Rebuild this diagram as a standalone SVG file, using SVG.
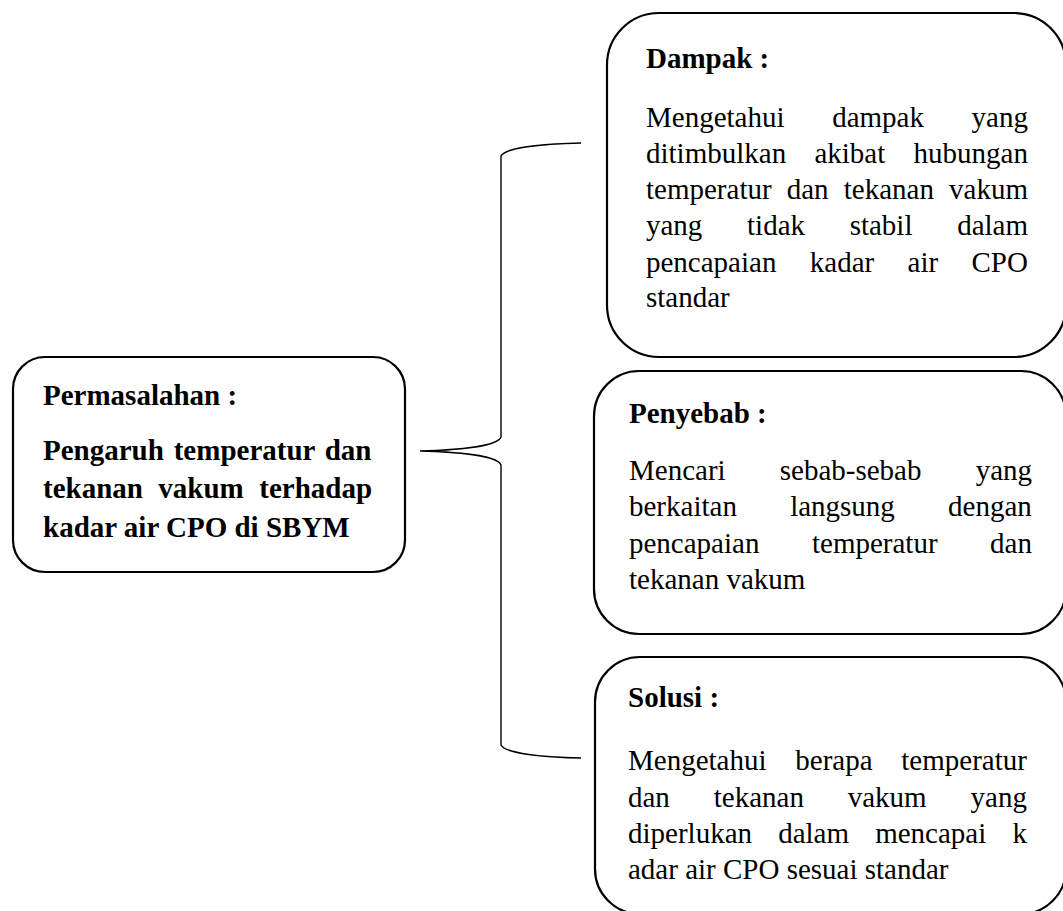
<svg xmlns="http://www.w3.org/2000/svg" width="1063" height="911" viewBox="0 0 1063 911">
<style>
.box{fill:#fff;stroke:#000;stroke-width:2.2}
.t{font-family:"Liberation Serif","Times New Roman",serif;font-size:29px;fill:#000}
.b{font-weight:bold}
.br{fill:none;stroke:#000;stroke-width:1.4}
</style>
<rect width="1063" height="911" fill="#fff"/>
<g id="connectors">
<path class="br" d="M581,143 C540,144 505,148 501,156 L501,437 C498,446 460,450 420,451 C460,452 498,456 501,465 L501,745 C505,753 540,757 581,758"/>
</g>
<g id="permasalahan">
<rect class="box" x="13" y="357" width="392" height="215" rx="32" ry="32"/>
<text class="t b" x="43" y="405">Permasalahan :</text>
<text class="t b" x="43" y="460" style="word-spacing:2.6px">Pengaruh temperatur dan</text>
<text class="t b" x="43" y="498" style="word-spacing:8.2px">tekanan vakum terhadap</text>
<text class="t b" x="43" y="537">kadar air CPO di SBYM</text>
</g>
<g id="dampak">
<rect class="box" x="607" y="13" width="459" height="344" rx="52" ry="52"/>
<text class="t b" x="646" y="68">Dampak :</text>
<text class="t" x="646" y="127" style="word-spacing:40.4px">Mengetahui dampak yang</text>
<text class="t" x="646" y="163" style="word-spacing:21px">ditimbulkan akibat hubungan</text>
<text class="t" x="646" y="199" style="word-spacing:7.9px">temperatur dan tekanan vakum</text>
<text class="t" x="646" y="235" style="word-spacing:37.4px">yang tidak stabil dalam</text>
<text class="t" x="646" y="272" style="word-spacing:26.1px">pencapaian kadar air CPO</text>
<text class="t" x="646" y="307">standar</text>
</g>
<g id="penyebab">
<rect class="box" x="594" y="371" width="472" height="263" rx="45" ry="45"/>
<text class="t b" x="629" y="423">Penyebab :</text>
<text class="t" x="629" y="480" style="word-spacing:46.9px">Mencari sebab-sebab yang</text>
<text class="t" x="629" y="516" style="word-spacing:46px">berkaitan langsung dengan</text>
<text class="t" x="629" y="553" style="word-spacing:45.3px">pencapaian temperatur dan</text>
<text class="t" x="629" y="589">tekanan vakum</text>
</g>
<g id="solusi">
<rect class="box" x="595" y="657" width="471" height="257" rx="45" ry="45"/>
<text class="t b" x="628" y="707">Solusi :</text>
<text class="t" x="628" y="770" style="word-spacing:21.5px">Mengetahui berapa temperatur</text>
<text class="t" x="628" y="807" style="word-spacing:36.6px">dan tekanan vakum yang</text>
<text class="t" x="628" y="843" style="word-spacing:18.9px">diperlukan dalam mencapai k</text>
<text class="t" x="628" y="879">adar air CPO sesuai standar</text>
</g>
</svg>
